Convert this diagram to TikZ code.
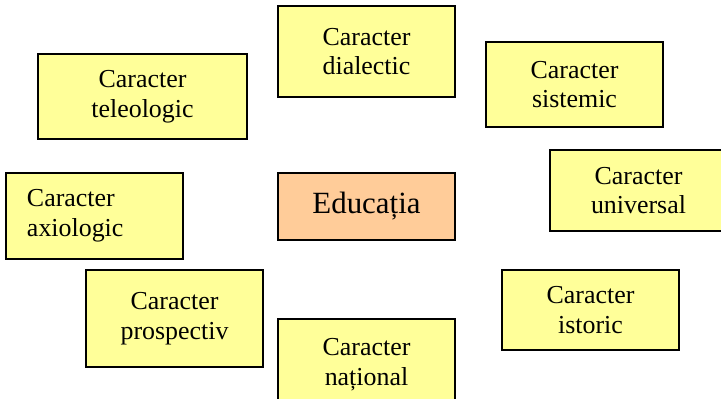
\documentclass[tikz,border=0pt]{standalone}
\usepackage{fontspec}
\setmainfont{Liberation Serif}
\definecolor{boxyellow}{HTML}{FFFF99}
\definecolor{boxorange}{HTML}{FFCC99}
\begin{document}
\begin{tikzpicture}[x=1bp,y=-1bp]

        \useasboundingbox (0,0) rectangle (721,398);

        \begin{scope}[every node/.style={rectangle,draw,line width=1.6bp,fill=boxyellow,
            align=center,inner sep=0pt,minimum width=177bp,font=\fontsize{26}{30}\selectfont}]
          \node[minimum height=91bp] (dialectic)  at (366.5,51.5)  {Caracter\\dialectic};
          \node[minimum width=209bp,minimum height=85bp] (teleologic) at (142.5,96.5) {Caracter\\teleologic};
          \node[minimum height=85bp] (sistemic)   at (574.5,84.5)  {Caracter\\sistemic};
          \node[minimum height=81bp] (universal)  at (638.5,190.5) {Caracter\\universal};
          \node[minimum height=67bp,fill=boxorange,font=\fontsize{31}{36}\selectfont]
            (educatia) at (366.5,206.5) {Educația};
          \node[minimum height=86bp,align=left,text width=135bp,inner xsep=21bp]
            (axiologic) at (94.5,216) {Caracter\\axiologic};
          \node[minimum height=97bp] (prospectiv) at (174.5,318.5) {Caracter\\prospectiv};
          \node[minimum height=80bp] (istoric)    at (590.5,310)   {Caracter\\istoric};
          \node[minimum height=91bp] (national)   at (366.5,364.5) {Caracter\\național};
        \end{scope}

      \end{tikzpicture}
\end{document}
